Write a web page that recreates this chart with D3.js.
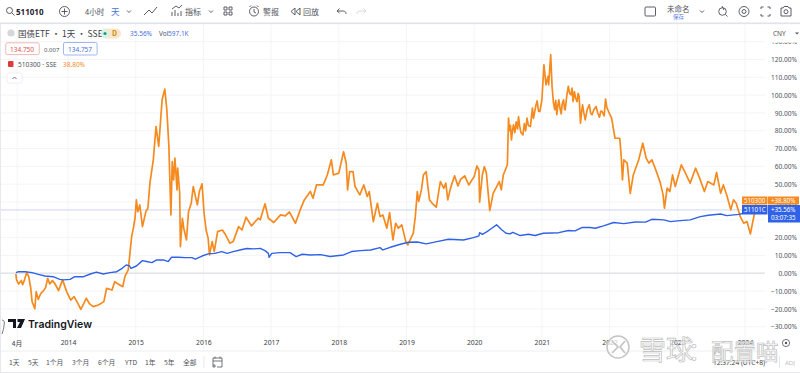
<!DOCTYPE html>
<html>
<head>
<meta charset="utf-8">
<script src="https://cdn.jsdelivr.net/npm/d3@7"></script>
<style>
  html, body { margin: 0; padding: 0; background: #fff; }
  svg { display: block; font-family: "Noto Sans CJK SC", "Noto Sans", sans-serif; }
</style>
</head>
<body>
<svg id="chart" width="800" height="373"></svg>
<script>
// 510300 (orange): year position / percent
const hs300Years = [2013.23,2013.24,2013.27,2013.31,2013.33,2013.36,2013.39,2013.42,2013.45,2013.47,2013.51,2013.53,2013.56,2013.60,2013.64,2013.67,2013.70,2013.73,2013.77,2013.81,2013.86,2013.92,2013.98,
  2014.04,2014.09,2014.14,2014.19,2014.23,2014.27,2014.32,2014.37,2014.45,2014.53,2014.57,2014.65,2014.69,2014.74,2014.81,2014.84,2014.89,2014.92,2014.94,2014.97,2014.99,
  2015.01,2015.03,2015.06,2015.10,2015.15,2015.18,2015.21,2015.26,2015.30,2015.34,2015.39,2015.43,2015.46,2015.49,2015.52,2015.54,2015.56,2015.58,2015.61,2015.62,2015.65,2015.66,2015.69,2015.71,2015.75,2015.78,2015.82,2015.85,2015.91,2015.94,2015.98,
  2016.01,2016.04,2016.07,2016.09,2016.13,2016.16,2016.21,2016.28,2016.32,2016.39,2016.44,2016.52,2016.57,2016.63,2016.71,2016.81,2016.84,2016.91,2016.96,
  2017.04,2017.14,2017.21,2017.27,2017.36,2017.43,2017.49,2017.58,2017.62,2017.67,2017.77,2017.83,2017.89,2017.92,
  2018.00,2018.07,2018.11,2018.13,2018.16,2018.21,2018.24,2018.31,2018.37,2018.42,2018.45,2018.51,2018.57,2018.61,2018.65,2018.71,2018.75,2018.80,2018.84,2018.88,2018.93,2018.99,
  2019.02,2019.10,2019.13,2019.16,2019.18,2019.22,2019.25,2019.29,2019.34,2019.38,2019.44,2019.48,2019.50,2019.55,2019.58,2019.61,2019.65,2019.71,2019.76,2019.80,2019.86,2019.92,
  2020.00,2020.04,2020.07,2020.08,2020.12,2020.15,2020.18,2020.23,2020.28,2020.37,2020.40,2020.43,2020.49,
  2020.507,2020.52,2020.535,2020.55,2020.565,2020.58,2020.60,2020.62,2020.64,2020.655,2020.67,2020.69,2020.72,2020.74,2020.76,2020.78,2020.80,2020.83,2020.86,2020.875,2020.89,2020.91,2020.93,2020.95,2020.97,
  2021.00,2021.03,2021.06,2021.09,2021.10,2021.13,
  2021.15,2021.17,2021.19,2021.205,2021.22,2021.235,2021.25,2021.27,2021.285,2021.30,2021.32,2021.335,2021.345,2021.365,2021.39,2021.41,2021.43,2021.445,2021.46,2021.48,2021.50,2021.52,2021.535,2021.55,2021.57,2021.585,2021.60,2021.62,2021.64,2021.67,2021.70,2021.72,2021.74,2021.77,2021.80,2021.825,2021.85,2021.87,2021.89,2021.92,2021.94,2021.96,2021.985,
  2022.03,2022.08,2022.15,2022.17,2022.19,2022.21,2022.26,2022.305,2022.35,2022.43,2022.49,2022.54,2022.58,2022.625,2022.70,2022.75,2022.79,2022.81,2022.85,2022.89,2022.93,2022.97,
  2023.06,2023.12,2023.19,2023.27,2023.33,2023.40,2023.45,2023.54,2023.58,2023.64,2023.68,2023.73,2023.79,2023.83,2023.87,2023.93,2023.98,
  2024.03,2024.08,2024.14,2024.16];
const hs300Values = [-0.4,-3.7,-6,-4,-6.4,-3.4,0.4,-1.9,-8.4,-16,-19.9,-10.3,-14.6,-11.2,-9.7,-7.9,-2.8,-6,-4.1,-6,-9.7,-3.7,-10.3,
  -15,-13.1,-16.5,-20.2,-17.2,-14,-17.2,-18.7,-17.8,-15.9,-8.4,-9.4,-4.7,-6,-7.5,-1.9,1.9,13.1,20.6,26.2,30.9,
  41.2,34.6,38.4,26.2,34.6,36.5,50.6,63.7,82.4,71.2,97.4,103.4,91.8,71.2,32.8,62.7,52.4,64.6,46.8,59,44.9,15,30.9,25.3,18.7,34.6,39.3,48.7,38.4,45.9,50.2,
  33.7,24.3,19.7,10.3,17.8,12.2,23.4,24.3,22.1,16.9,17.8,26.2,24.3,31.5,26.6,30.9,30,39,30.9,
  28.5,32.8,32.2,34.5,28.1,35.6,41.2,45.9,42.1,49.6,49.6,55.2,63.7,55.2,
  56.2,68.2,61.8,46.8,57.1,57.1,48.7,44,49.6,43.1,45.9,29,39.3,31.8,32.8,25.3,34.1,18.7,28.1,25.3,27.2,17.8,
  15.9,22.5,31.8,45.9,40.3,46.8,55.2,57.1,41.2,39.3,37.1,46.8,51.5,47.8,50.6,41.2,47.8,54.7,49,52.8,54.7,49.6,
  54.3,60.3,58,39.9,55.2,59.9,56.2,35.2,44.9,51.5,46.8,55.2,60.9,
  87.1,80,83,74.9,80,83.3,79,85,81,88,83,79,77.7,84,80,87.1,83,82.4,92.7,87,89.9,94,96.8,91,90.8,
  97.4,117,105.8,110.5,105.8,122.7,
  104.9,96,91.8,97,89,94,97.4,92,89.5,95,97.4,92,91.8,99,104.9,101,100.2,104,96.4,102,98,96.4,101,99.3,84.3,90,94.6,90,86.1,92,94.6,90,89,92,93.6,90,87.6,91,90.8,88.4,97.8,93,90.8,
  87.1,75.8,75.8,66.5,52.4,63.7,61.8,44.9,55.2,63.7,73,64.6,61.8,63.7,56.2,50.6,44,36.5,47.8,45.9,55.2,48.7,
  60.9,56.2,50.6,59,53.4,45.9,51.5,49.6,56.6,44.9,49.6,44,35.6,41.2,39.3,31.8,28.1,
  29,22.1,33.7,38.8];

// 511010 (blue)
const bondYears = [2013.23,2013.27,2013.37,2013.47,2013.56,2013.66,2013.78,2013.88,2013.93,
  2014.03,2014.10,2014.23,2014.33,2014.42,2014.52,2014.62,2014.72,2014.80,2014.86,2014.91,2014.93,
  2015.01,2015.10,2015.16,2015.24,2015.31,2015.41,2015.48,2015.53,2015.63,2015.73,2015.83,2015.88,2015.98,
  2016.07,2016.17,2016.27,2016.35,2016.44,2016.54,2016.64,2016.74,2016.84,2016.91,2016.96,2016.97,
  2017.01,2017.14,2017.28,2017.37,2017.46,2017.58,2017.73,2017.87,
  2018.07,2018.19,2018.32,2018.47,2018.61,2018.65,2018.76,2018.91,
  2019.03,2019.16,2019.29,2019.45,2019.62,2019.84,2019.99,
  2020.07,2020.08,2020.12,2020.19,2020.26,2020.33,2020.41,2020.47,2020.53,2020.57,2020.68,2020.80,2020.90,
  2021.02,2021.25,2021.39,2021.49,2021.59,2021.71,2021.79,2021.91,
  2022.06,2022.21,2022.38,2022.53,2022.625,2022.80,2022.90,
  2023.00,2023.19,2023.34,2023.46,2023.64,2023.73,2023.91,
  2024.00,2024.16];
const bondValues = [0.4,0.9,0.9,0.4,-0.6,-1.5,-1.9,-3.4,-3.7,
  -3.4,-1.9,-1.9,-0.4,0.7,-0.4,0.4,0.9,2.8,4.7,4.1,2.8,
  4.1,7.1,6.6,6,7.5,7.5,6.6,9,9,8.8,8.8,7.9,9.7,
  10.9,11.2,12.2,11.2,12.2,13.1,13.9,13.7,14,12.7,11.2,9,
  11.2,11.6,11.6,9.4,10.7,10.3,10.5,9.4,
  10.3,12.2,12.7,13.1,14.4,13.1,14.6,16.3,
  17.4,17.6,16.5,17.8,19.1,18.7,20,
  21,22.8,21.9,23.4,25.3,27.2,24.3,22.5,22.1,23,21.2,21.9,21.2,
  22.5,22.8,24,23.8,25.7,25.7,25.3,26.6,
  28.5,27.9,28.8,28.7,30.3,30,29,
  29.4,30,31.8,32.6,33.3,32.4,33.1,
  34,35.56];

const yearTicks = [2014,2015,2016,2017,2018,2019,2020,2021,2022,2023,2024];
const pctTicks = [-30,-20,-10,0,10,20,30,40,50,60,70,80,90,100,110,120,130];
const rangeButtons = ["1天","5天","1个月","3个月","6个月","YTD","1年","5年","全部"];
const rangeButtonX = [9,28,46,72,98,125,145,164,183];

const ORANGE = "#f58a1f", BLUE = "#2f62e6", GREY = "#50535e";

const svg = d3.select("#chart");
const x = d3.scaleLinear().domain([2014, 2024]).range([68, 745]);
const y = d3.scaleLinear().domain([0, 120]).range([273.3, 59.5]);

function label(g, px, py, txt, size, color, extra) {
  const t = g.append("text").attr("x", px).attr("y", py).attr("font-size", size).attr("fill", color).text(txt);
  if (extra) Object.keys(extra).forEach(k => t.attr(k, extra[k]));
  return t;
}

// grid
const grid = svg.append("g");
grid.selectAll(".h").data(pctTicks).enter().append("line")
  .attr("x1", 0).attr("x2", 765).attr("y1", d => y(d)).attr("y2", d => y(d))
  .attr("stroke", "#f4f5f8");
grid.selectAll(".v").data([2013.25].concat(yearTicks)).enter().append("line")
  .attr("x1", d => x(d)).attr("x2", d => x(d)).attr("y1", 24).attr("y2", 351)
  .attr("stroke", "#f4f5f8");

// zero line and last price line
svg.append("line").attr("x1", 0).attr("x2", 765).attr("y1", y(0)).attr("y2", y(0))
  .attr("stroke", "#e2e3e6").attr("stroke-width", 1.4);
svg.append("line").attr("x1", 0).attr("x2", 765).attr("y1", y(35.56)).attr("y2", y(35.56))
  .attr("stroke", "#ccd6f2");

// series
const line = d3.line().x(d => x(d[0])).y(d => y(d[1]));
svg.append("path").attr("fill", "none").attr("stroke", ORANGE).attr("stroke-width", 1.7)
  .attr("stroke-linejoin", "round").attr("d", line(d3.zip(hs300Years, hs300Values)));
svg.append("path").attr("fill", "none").attr("stroke", BLUE).attr("stroke-width", 1.4)
  .attr("stroke-linejoin", "round").attr("d", line(d3.zip(bondYears, bondValues)));

// price scale
const yAxis = svg.append("g").attr("transform", "translate(797,0)")
  .call(d3.axisLeft(y).tickValues(pctTicks).tickSize(0).tickPadding(0).tickFormat(d => d3.format(".2f")(d) + "%"));
yAxis.select(".domain").remove();
yAxis.selectAll("text").attr("font-size", 6.6).attr("fill", GREY).attr("font-family", "Noto Sans, sans-serif");

// time scale
const xAxis = svg.append("g").attr("transform", "translate(0,340.5)")
  .call(d3.axisBottom(x).tickValues(yearTicks).tickSize(0).tickPadding(0).tickFormat(d3.format("d")));
xAxis.select(".domain").remove();
xAxis.selectAll("text").attr("font-size", 6.8).attr("fill", "#3a3d46").attr("font-family", "Noto Sans, sans-serif");
label(svg, 17, 346, "4月", 6.8, "#3a3d46", {"text-anchor": "middle"});
svg.append("line").attr("x1", 0).attr("x2", 765).attr("y1", 351).attr("y2", 351).attr("stroke", "#eceef2");
svg.append("rect").attr("x", 0).attr("y", 372).attr("width", 800).attr("height", 1).attr("fill", "#e6e8ee");
svg.append("rect").attr("x", 0).attr("y", 23).attr("width", 1).attr("height", 350).attr("fill", "#e6e8ee");

// right side last value tags
const tags = svg.append("g");
tags.append("rect").attr("x", 742).attr("y", 196.5).attr("width", 25.5).attr("height", 8).attr("fill", ORANGE);
tags.append("rect").attr("x", 768).attr("y", 196.5).attr("width", 31).attr("height", 8).attr("fill", ORANGE);
tags.append("rect").attr("x", 742).attr("y", 205).attr("width", 25.5).attr("height", 9.5).attr("fill", BLUE);
tags.append("rect").attr("x", 768).attr("y", 205).attr("width", 32).attr("height", 17.5).attr("fill", BLUE);
const tagFont = {"font-family": "Noto Sans, sans-serif"};
label(tags, 744, 203, "510300", 6.2, "#fff", tagFont);
label(tags, 771, 203, "+38.80%", 6.2, "#fff", tagFont);
label(tags, 744, 212, "51101C", 6.2, "#fff", tagFont);
label(tags, 771, 212, "+35.56%", 6.2, "#fff", tagFont);
label(tags, 771, 220, "03:07:35", 6.2, "#fff", tagFont);

// top toolbar
const bar = svg.append("g");
bar.append("rect").attr("x", 0).attr("y", 0).attr("width", 800).attr("height", 22.5).attr("fill", "#fff");
bar.append("rect").attr("x", 0).attr("y", 22.5).attr("width", 800).attr("height", 1.6).attr("fill", "#e0e3eb");
const icon = bar.append("g").attr("fill", "none").attr("stroke", "#4a4d57").attr("stroke-width", 0.9);
icon.append("circle").attr("cx", 9.5).attr("cy", 10.5).attr("r", 3);
icon.append("path").attr("d", "M12 13l2.5 2.5");
label(bar, 16, 14.5, "511010", 8, "#1f222b", {"font-weight": "700", "font-family": "Noto Sans, sans-serif"});
icon.append("circle").attr("cx", 64.5).attr("cy", 11.5).attr("r", 5);
icon.append("path").attr("d", "M64.5 8.5v6M61.5 11.5h6");
label(bar, 85, 15, "4小时", 7.5, GREY);
label(bar, 111, 15, "天", 8.5, "#4a6fe0");
icon.append("path").attr("d", "M127 10.5l2 2 2-2M209 10.5l2 2 2-2M700 10.5l2 2 2-2");
icon.append("path").attr("d", "M144 15l5-5 3 3 5-6");
icon.append("path").attr("d", "M172 16v-4M175 16v-6M178 16v-3M181 16v-5M172 9l4-3 3 2 3-3");
label(bar, 185, 15, "指标", 8, GREY);
icon.append("path").attr("d", "M224 7h3v3h-3zM229 7h3v3h-3zM224 12h3v3h-3zM229 12h3v3h-3z");
icon.append("circle").attr("cx", 254).attr("cy", 11.5).attr("r", 4.5);
icon.append("path").attr("d", "M254 9v3l2 1M249.5 7l1.5-1.5M258.5 7l-1.5-1.5");
label(bar, 263, 15, "警报", 8, GREY);
icon.append("path").attr("d", "M295 8l-4 3.5 4 3.5zM300 8l-4 3.5 4 3.5z");
label(bar, 303, 15, "回放", 8, GREY);
icon.append("path").attr("d", "M337 11h6c2 0 3 1 3 3M337 11l2.5-2.5M337 11l2.5 2");
icon.append("path").attr("d", "M366 11h-6c-2 0-3 1-3 3M366 11l-2.5-2.5M366 11l-2.5 2").attr("stroke", "#d5d7dd");
icon.append("rect").attr("x", 645).attr("y", 7).attr("width", 10.5).attr("height", 9).attr("rx", 1);
label(bar, 667, 12, "未命名", 7.5, GREY);
label(bar, 673, 19, "保存", 5.5, "#5b7fe6");
icon.append("circle").attr("cx", 722.5).attr("cy", 11.5).attr("r", 3.8);
icon.append("path").attr("d", "M725.5 14.5l2 2M722 6l2 4");
icon.append("circle").attr("cx", 744).attr("cy", 11.5).attr("r", 5);
icon.append("circle").attr("cx", 744).attr("cy", 11.5).attr("r", 2);
icon.append("path").attr("d", "M761 9V7h2.5M767.5 7h2.5v2M770 14v2h-2.5M763.5 16H761v-2");
icon.append("path").attr("d", "M781 8h2l1-1.5h4l1 1.5h2v8h-10z");
icon.append("circle").attr("cx", 786).attr("cy", 11.7).attr("r", 2);

// legend
const leg = svg.append("g");
leg.append("circle").attr("cx", 11).attr("cy", 33).attr("r", 3.6).attr("fill", "#d5d7dc");
label(leg, 18, 37, "国债ETF · 1天 · SSE", 8.5, "#3d4049");
leg.append("rect").attr("x", 101).attr("y", 28.5).attr("width", 20).attr("height", 10).attr("rx", 5).attr("fill", "#fbe7c8");
leg.append("circle").attr("cx", 105).attr("cy", 33.5).attr("r", 4.4).attr("fill", "#d9f1ea");
leg.append("circle").attr("cx", 105).attr("cy", 33.5).attr("r", 1.6).attr("fill", "#1f9c82");
label(leg, 112, 36, "D", 7, "#c98a1c", {"font-weight": "700"});
label(leg, 130, 36, "35.56%", 6.5, "#4a6fe0", tagFont);
label(leg, 159, 36, "Vol", 6.5, GREY, tagFont);
label(leg, 168, 36, "597.1K", 6.5, "#4a6fe0", tagFont);
leg.append("rect").attr("x", 5.8).attr("y", 42.8).attr("width", 33.4).attr("height", 11.8).attr("rx", 1.5).attr("fill", "#fff").attr("stroke", "#e59a9a").attr("stroke-width", 0.7);
label(leg, 10, 51.5, "134.750", 6.5, "#d9534f", tagFont);
label(leg, 44, 51.5, "0.007", 6, GREY, tagFont);
leg.append("rect").attr("x", 63.5).attr("y", 42.5).attr("width", 33.6).attr("height", 12.5).attr("rx", 1.5).attr("fill", "#fff").attr("stroke", "#7d9ae8").attr("stroke-width", 0.7);
label(leg, 68, 51.5, "134.757", 6.5, "#4a6fe0", tagFont);
leg.append("rect").attr("x", 8).attr("y", 61).attr("width", 5.5).attr("height", 6).attr("rx", 1).attr("fill", "#e0393e");
label(leg, 18, 67, "510300 · SSE", 6.6, "#50535e", tagFont);
label(leg, 63, 67, "38.80%", 6.5, ORANGE, tagFont);
leg.append("rect").attr("x", 7).attr("y", 73).attr("width", 15).attr("height", 10).attr("rx", 1.5).attr("fill", "#fff").attr("stroke", "#e6e8ee").attr("stroke-width", 0.7);
leg.append("path").attr("d", "M12.5 79l2-2 2 2").attr("fill", "none").attr("stroke", GREY).attr("stroke-width", 0.8);

// CNY box on top of the scale
svg.append("rect").attr("x", 768).attr("y", 26).attr("width", 32).attr("height", 16.5).attr("fill", "#fff");
label(svg, 773, 36, "CNY", 6.5, GREY, tagFont);
svg.append("path").attr("d", "M795 32.5h4l-2 2Z").attr("fill", GREY);

// logo
const logo = svg.append("g");
logo.append("path").attr("d", "M8 319h8v9h-3v-6h-5zM17.5 319h7.5l-4 9h-4l3-6h-2.5z").attr("fill", "#131722");
label(logo, 28, 328, "TradingView", 10.5, "#131722", {"font-weight": "600", "font-family": "Inter, sans-serif"});
logo.append("path").attr("d", "M2 320c2 0 3 2 2 5c0 3-1 6-2 9").attr("fill", "none").attr("stroke", "#55585f").attr("stroke-width", 0.8);

// bottom bar
const foot = svg.append("g");
rangeButtons.forEach((b, i) => label(foot, rangeButtonX[i], 365, b, 6.8, GREY));
foot.append("rect").attr("x", 203.5).attr("y", 356).attr("width", 0.8).attr("height", 12).attr("fill", "#e0e3eb");
foot.append("path").attr("d", "M213 365v-7h9v9h-5M213 361h9M215 356.5v2M220 356.5v2M212 366h4M214 364v4")
  .attr("fill", "none").attr("stroke", GREY).attr("stroke-width", 0.8);
foot.append("rect").attr("x", 779).attr("y", 356).attr("width", 0.8).attr("height", 12).attr("fill", "#e0e3eb");
label(foot, 785, 365, "ADJ", 6, "#b9bcc4", tagFont);
foot.append("circle").attr("cx", 786).attr("cy", 343).attr("r", 3.6).attr("fill", "none").attr("stroke", GREY).attr("stroke-width", 0.8);
foot.append("circle").attr("cx", 786).attr("cy", 343).attr("r", 1.2).attr("fill", GREY);

// watermark
const mark = svg.append("g");
const markStyle = {"fill-opacity": 0.7, "stroke": "#bdbdbd", "stroke-width": 0.7};
mark.append("circle").attr("cx", 618).attr("cy", 347).attr("r", 11).attr("fill", "#fff").attr("fill-opacity", 0.7)
  .attr("stroke", "#c4c4c4").attr("stroke-width", 1.5);
mark.append("path").attr("d", "M612 341l6 6-6 6M625 341l-5 6 5 6").attr("fill", "none").attr("stroke", "#c4c4c4").attr("stroke-width", 1.7);
label(mark, 639, 360, "雪球", 27, "#fff", markStyle);
label(mark, 688, 360, "：", 24, "#fff", markStyle);
label(mark, 711, 360, "配置喵", 22.5, "#fff", markStyle);
label(foot, 713, 365, "12:37:24 (UTC+8)", 6.6, "#3a3d46", tagFont);
</script>
</body>
</html>
